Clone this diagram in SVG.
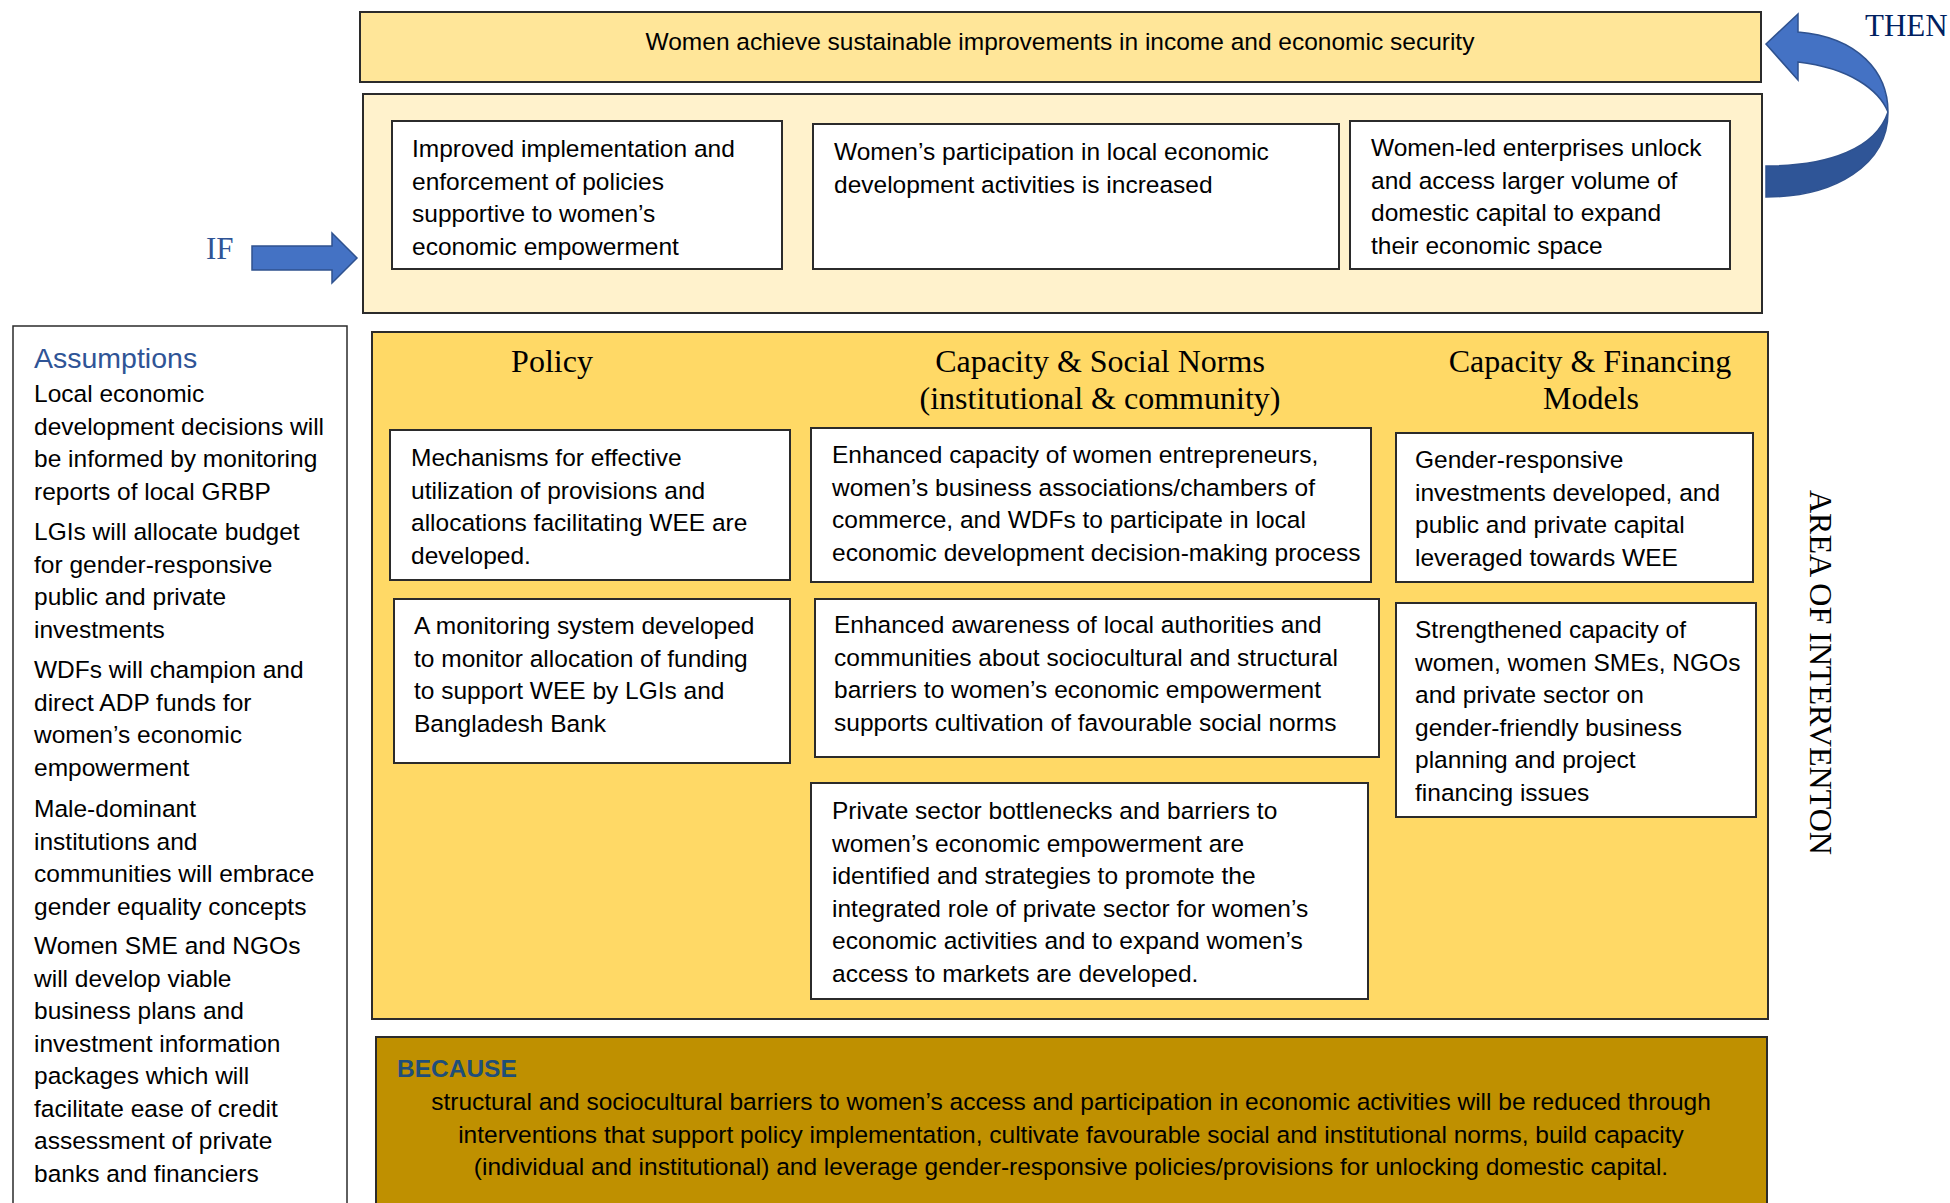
<svg xmlns="http://www.w3.org/2000/svg" width="1950" height="1203" viewBox="0 0 1950 1203">
<style>
.t{font-family:"Liberation Sans",Arial,sans-serif;font-size:24.5px;fill:#000}
.h{font-family:"Liberation Serif","Times New Roman",serif;font-size:32px;fill:#000}
.box{fill:#fff;stroke:#2b2b2b;stroke-width:2}
.frame{stroke:#2b2b2b;stroke-width:2}
.arr{fill:#4472C4;stroke:#2F528F;stroke-width:1.5}
</style>
<rect width="1950" height="1203" fill="#fff"/>

<g id="goal">
<rect class="frame" x="360" y="12" width="1401" height="70" fill="#FFE699"/>
<text class="t" x="1060" y="50" text-anchor="middle">Women achieve sustainable improvements in income and economic security</text>
</g>

<g id="outcomes">
<rect class="frame" x="363" y="94" width="1399" height="219" fill="#FFF2CC"/>
</g>
<g id="outcome1">
<rect class="box" x="392" y="121" width="390" height="148"/>
<text class="t"><tspan x="412" y="157">Improved implementation and</tspan><tspan x="412" y="189.5">enforcement of policies</tspan><tspan x="412" y="222">supportive to women’s</tspan><tspan x="412" y="254.5">economic empowerment</tspan></text>
</g>
<g id="outcome2">
<rect class="box" x="813" y="124" width="526" height="145"/>
<text class="t"><tspan x="834" y="160">Women’s participation in local economic</tspan><tspan x="834" y="192.5">development activities is increased</tspan></text>
</g>
<g id="outcome3">
<rect class="box" x="1350" y="121" width="380" height="148"/>
<text class="t"><tspan x="1371" y="156">Women-led enterprises unlock</tspan><tspan x="1371" y="188.5">and access larger volume of</tspan><tspan x="1371" y="221">domestic capital to expand</tspan><tspan x="1371" y="253.5">their economic space</tspan></text>
</g>

<g id="if-label">
<text x="206" y="259" font-family="Liberation Serif, Times New Roman, serif" font-size="31" fill="#2F5496">IF</text>
</g>
<g id="then-label">
<text x="1865" y="36" font-family="Liberation Serif, Times New Roman, serif" font-size="31" fill="#002060">THEN</text>
</g>

<g id="assumptions">
<rect x="13" y="326" width="334" height="900" fill="#fff" stroke="#2b2b2b" stroke-width="1.5"/>
<text x="34" y="368" font-family="Liberation Sans, Arial, sans-serif" font-size="28.5" fill="#2F5496">Assumptions</text>
<text class="t">
<tspan x="34" y="402">Local economic</tspan><tspan x="34" y="434.5">development decisions will</tspan><tspan x="34" y="467">be informed by monitoring</tspan><tspan x="34" y="499.5">reports of local GRBP</tspan>
<tspan x="34" y="540">LGIs will allocate budget</tspan><tspan x="34" y="572.5">for gender-responsive</tspan><tspan x="34" y="605">public and private</tspan><tspan x="34" y="637.5">investments</tspan>
<tspan x="34" y="678">WDFs will champion and</tspan><tspan x="34" y="710.5">direct ADP funds for</tspan><tspan x="34" y="743">women’s economic</tspan><tspan x="34" y="775.5">empowerment</tspan>
<tspan x="34" y="817">Male-dominant</tspan><tspan x="34" y="849.5">institutions and</tspan><tspan x="34" y="882">communities will embrace</tspan><tspan x="34" y="914.5">gender equality concepts</tspan>
<tspan x="34" y="954">Women SME and NGOs</tspan><tspan x="34" y="986.5">will develop viable</tspan><tspan x="34" y="1019">business plans and</tspan><tspan x="34" y="1051.5">investment information</tspan><tspan x="34" y="1084">packages which will</tspan><tspan x="34" y="1116.5">facilitate ease of credit</tspan><tspan x="34" y="1149">assessment of private</tspan><tspan x="34" y="1181.5">banks and financiers</tspan>
</text>
</g>

<g id="area-of-intervention">
<rect class="frame" x="372" y="332" width="1396" height="687" fill="#FFD966"/>
<text class="h" x="552" y="372" text-anchor="middle">Policy</text>
<text class="h" text-anchor="middle"><tspan x="1100" y="372">Capacity &amp; Social Norms</tspan><tspan x="1100" y="409">(institutional &amp; community)</tspan></text>
<text class="h" text-anchor="middle"><tspan x="1590" y="372">Capacity &amp; Financing</tspan><tspan x="1591" y="409">Models</tspan></text>
<text class="h" font-size="32.8" transform="translate(1810,490) rotate(90)">AREA OF INTERVENTON</text>
</g>

<g id="policy1">
<rect class="box" x="390" y="430" width="400" height="150"/>
<text class="t"><tspan x="411" y="466">Mechanisms for effective</tspan><tspan x="411" y="498.5">utilization of provisions and</tspan><tspan x="411" y="531">allocations facilitating WEE are</tspan><tspan x="411" y="563.5">developed.</tspan></text>
</g>
<g id="policy2">
<rect class="box" x="394" y="599" width="396" height="164"/>
<text class="t"><tspan x="414" y="634">A monitoring system developed</tspan><tspan x="414" y="666.5">to monitor allocation of funding</tspan><tspan x="414" y="699">to support WEE by LGIs and</tspan><tspan x="414" y="731.5">Bangladesh Bank</tspan></text>
</g>
<g id="norms1">
<rect class="box" x="811" y="428" width="560" height="154"/>
<text class="t"><tspan x="832" y="463">Enhanced capacity of women entrepreneurs,</tspan><tspan x="832" y="495.5">women’s business associations/chambers of</tspan><tspan x="832" y="528">commerce, and WDFs to participate in local</tspan><tspan x="832" y="560.5">economic development decision-making process</tspan></text>
</g>
<g id="norms2">
<rect class="box" x="815" y="599" width="564" height="158"/>
<text class="t"><tspan x="834" y="633">Enhanced awareness of local authorities and</tspan><tspan x="834" y="665.5">communities about sociocultural and structural</tspan><tspan x="834" y="698">barriers to women’s economic empowerment</tspan><tspan x="834" y="730.5">supports cultivation of favourable social norms</tspan></text>
</g>
<g id="norms3">
<rect class="box" x="811" y="783" width="557" height="216"/>
<text class="t"><tspan x="832" y="819">Private sector bottlenecks and barriers to</tspan><tspan x="832" y="851.5">women’s economic empowerment are</tspan><tspan x="832" y="884">identified and strategies to promote the</tspan><tspan x="832" y="916.5">integrated role of private sector for women’s</tspan><tspan x="832" y="949">economic activities and to expand women’s</tspan><tspan x="832" y="981.5">access to markets are developed.</tspan></text>
</g>
<g id="finance1">
<rect class="box" x="1396" y="433" width="357" height="149"/>
<text class="t"><tspan x="1415" y="468">Gender-responsive</tspan><tspan x="1415" y="500.5">investments developed, and</tspan><tspan x="1415" y="533">public and private capital</tspan><tspan x="1415" y="565.5">leveraged towards WEE</tspan></text>
</g>
<g id="finance2">
<rect class="box" x="1396" y="603" width="360" height="214"/>
<text class="t"><tspan x="1415" y="638">Strengthened capacity of</tspan><tspan x="1415" y="670.5">women, women SMEs, NGOs</tspan><tspan x="1415" y="703">and private sector on</tspan><tspan x="1415" y="735.5">gender-friendly business</tspan><tspan x="1415" y="768">planning and project</tspan><tspan x="1415" y="800.5">financing issues</tspan></text>
</g>

<g id="because">
<rect class="frame" x="376" y="1037" width="1391" height="200" fill="#BF9000"/>
<text x="397" y="1077" font-family="Liberation Sans, Arial, sans-serif" font-size="24.5" font-weight="bold" fill="#1F4E79">BECAUSE</text>
<text class="t" text-anchor="middle"><tspan x="1071" y="1110">structural and sociocultural barriers to women’s access and participation in economic activities will be reduced through</tspan><tspan x="1071" y="1142.5">interventions that support policy implementation, cultivate favourable social and institutional norms, build capacity</tspan><tspan x="1071" y="1175">(individual and institutional) and leverage gender-responsive policies/provisions for unlocking domestic capital.</tspan></text>
</g>

<g id="connectors">
<path id="if-arrow" class="arr" d="M252,246 L332,246 L332,233 L357,258 L332,283 L332,270 L252,270 Z"/>
<g id="then-arrow">
<path d="M1888,112 C1888,165 1835,197 1766,197 L1766,166 C1830,166 1876,148 1888,112 Z" fill="#2F5597" stroke="#2F528F" stroke-width="1.5"/>
<path class="arr" d="M1766,44 L1798,14 L1798,32 C1858,37 1888,72 1888,112 C1879,90 1850,68 1798,62 L1798,80 Z"/>
</g>
</g>
</svg>
